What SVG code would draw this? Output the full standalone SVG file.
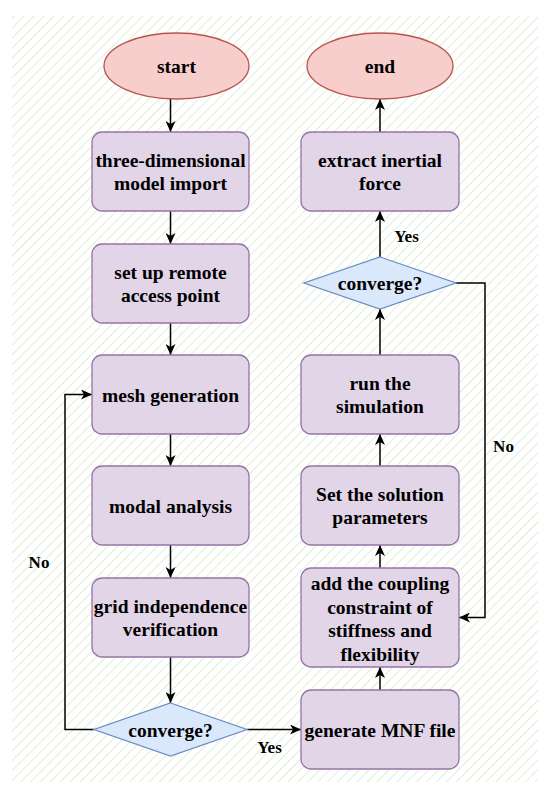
<svg xmlns="http://www.w3.org/2000/svg" width="550" height="794" viewBox="0 0 550 794">
<defs>
<pattern id="hatch" patternUnits="userSpaceOnUse" width="7" height="7" patternTransform="rotate(45)">
<rect width="7" height="7" fill="#ffffff"/>
<line x1="0" y1="0" x2="0" y2="7" stroke="#d9eacf" stroke-width="1.6"/>
</pattern>
<marker id="arr" markerUnits="userSpaceOnUse" markerWidth="12" markerHeight="10" refX="11" refY="5" orient="auto">
<path d="M0,0 L11,5 L0,10 L3,5 z" fill="#000"/>
</marker>
<style>
.term{fill:#f8cecc;stroke:#b85450;stroke-width:1.3}
.proc{fill:#e1d5e7;stroke:#9673a6;stroke-width:1.3}
.dec{fill:#dae8fc;stroke:#6c8ebf;stroke-width:1.3}
.t{font-size:19.5px;fill:#000;text-anchor:middle}
.lbl{font-size:17px;fill:#000;text-anchor:middle}
.c{fill:none;stroke:#000;stroke-width:1.5;marker-end:url(#arr)}
</style>
</defs>
<rect x="0" y="0" width="550" height="794" fill="#ffffff"/>
<rect x="12" y="16" width="526" height="766" fill="url(#hatch)"/>

<g font-family="Liberation Serif, Tinos, Times New Roman, DejaVu Serif, serif" font-weight="bold">
<g id="connectors">
<path class="c" d="M170.5,99 L170.5,132"/>
<path class="c" d="M170.5,211 L170.5,244"/>
<path class="c" d="M170.5,323 L170.5,355"/>
<path class="c" d="M170.5,434 L170.5,466"/>
<path class="c" d="M170.5,545 L170.5,578"/>
<path class="c" d="M170.5,657 L170.5,703"/>
<path class="c" d="M94,729.5 L65,729.5 L65,394.5 L92,394.5"/>
<path class="c" d="M247,729.5 L301,729.5"/>
<path class="c" d="M380,690 L380,667"/>
<path class="c" d="M380,568 L380,545"/>
<path class="c" d="M380,466 L380,434"/>
<path class="c" d="M380,355 L380,309"/>
<path class="c" d="M380,257 L380,211"/>
<path class="c" d="M380,132 L380,99"/>
<path class="c" d="M456,283 L485,283 L485,617.5 L459,617.5"/>
<text class="lbl" x="39" y="568">No</text>
<text class="lbl" x="269.5" y="753">Yes</text>
<text class="lbl" x="406.5" y="242">Yes</text>
<text class="lbl" x="503.5" y="452">No</text>
</g>

<g id="start">
<ellipse class="term" cx="176.5" cy="66" rx="72.5" ry="33"/>
<text class="t" x="176.5" y="73">start</text>
</g>
<g id="import">
<rect class="proc" x="92" y="132" width="157" height="79" rx="10"/>
<text class="t" x="170.5" y="166.5">three-dimensional</text>
<text class="t" x="170.5" y="190">model import</text>
</g>
<g id="remote">
<rect class="proc" x="92" y="244" width="157" height="79" rx="10"/>
<text class="t" x="170.5" y="278.5">set up remote</text>
<text class="t" x="170.5" y="302">access point</text>
</g>
<g id="mesh">
<rect class="proc" x="92" y="355" width="157" height="79" rx="10"/>
<text class="t" x="170.5" y="401.5">mesh generation</text>
</g>
<g id="modal">
<rect class="proc" x="92" y="466" width="157" height="79" rx="10"/>
<text class="t" x="170.5" y="512.5">modal analysis</text>
</g>
<g id="grid">
<rect class="proc" x="92" y="578" width="157" height="79" rx="10"/>
<text class="t" x="170.5" y="612.5">grid independence</text>
<text class="t" x="170.5" y="636">verification</text>
</g>
<g id="converge1">
<polygon class="dec" points="170.5,703 247,729.5 170.5,756 94,729.5"/>
<text class="t" x="170.5" y="736.5">converge?</text>
</g>
<g id="mnf">
<rect class="proc" x="301" y="690" width="158" height="79" rx="10"/>
<text class="t" x="380" y="736.5">generate MNF file</text>
</g>
<g id="coupling">
<rect class="proc" x="301" y="568" width="158" height="99" rx="10"/>
<text class="t" x="380" y="590">add the coupling</text>
<text class="t" x="380" y="613.5">constraint of</text>
<text class="t" x="380" y="637">stiffness and</text>
<text class="t" x="380" y="660.5">flexibility</text>
</g>
<g id="params">
<rect class="proc" x="301" y="466" width="158" height="79" rx="10"/>
<text class="t" x="380" y="500.5">Set the solution</text>
<text class="t" x="380" y="524">parameters</text>
</g>
<g id="simulation">
<rect class="proc" x="301" y="355" width="158" height="79" rx="10"/>
<text class="t" x="380" y="389.5">run the</text>
<text class="t" x="380" y="413">simulation</text>
</g>
<g id="converge2">
<polygon class="dec" points="380,257 456,283 380,309 304,283"/>
<text class="t" x="380" y="290">converge?</text>
</g>
<g id="extract">
<rect class="proc" x="301" y="132" width="158" height="79" rx="10"/>
<text class="t" x="380" y="166.5">extract inertial</text>
<text class="t" x="380" y="190">force</text>
</g>
<g id="end">
<ellipse class="term" cx="380" cy="66" rx="73" ry="33"/>
<text class="t" x="380" y="73">end</text>
</g>
</g>
</svg>
